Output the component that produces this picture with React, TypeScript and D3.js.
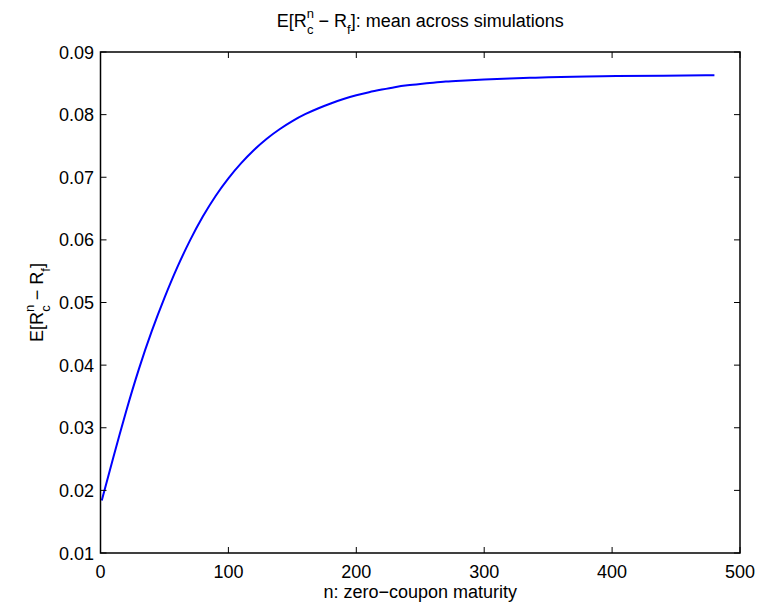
import React from 'react';
import * as d3 from 'd3';

// maturity (months) and mean excess return
const maturity = [1, 10, 20, 30, 40, 50, 60, 70, 80, 90, 100, 110, 120, 130, 140, 150, 160, 170, 180, 190, 200, 210, 220, 230, 240, 250, 260, 270, 280, 300, 320, 340, 360, 380, 400, 440, 480];
const excessReturn = [0.0184, 0.0253, 0.0327, 0.0395, 0.0455, 0.0508, 0.0557, 0.0600, 0.0638, 0.0671, 0.0699, 0.0723, 0.0744, 0.0762, 0.0777, 0.0790, 0.0801, 0.0810, 0.0818, 0.0825, 0.0831, 0.0836, 0.0840, 0.0844, 0.0847, 0.0849, 0.0851, 0.0853, 0.0854, 0.0856, 0.0858, 0.0859, 0.0860, 0.0861, 0.0862, 0.0862, 0.0863];
const xTicks = [0, 100, 200, 300, 400, 500];
const yTicks = [0.01, 0.02, 0.03, 0.04, 0.05, 0.06, 0.07, 0.08, 0.09];

const W = 761, H = 605;
const left = 100.5, right = 740, top = 52, bottom = 553;
const font = 'Liberation Sans, Arial, Helvetica, sans-serif';
const fs = 18;
const sub = 13;
const tickLen = 6;

export default function App() {
  const x = d3.scaleLinear().domain([0, 500]).range([left, right]);
  const y = d3.scaleLinear().domain([0.01, 0.09]).range([bottom, top]);
  const data = maturity.map((m, i) => [m, excessReturn[i]] as [number, number]);
  const line = d3.line<[number, number]>()
    .x(d => x(d[0]))
    .y(d => y(d[1]))
    .curve(d3.curveBasis);

  return (
    <svg width={W} height={H} style={{ position: 'absolute', left: 0, top: 0, background: '#fff' }}
      fontFamily={font} fontSize={fs}>
      <rect x={0} y={0} width={W} height={H} fill="#fff" />
      <path d={line(data) || ''} fill="none" stroke="#0000ff" strokeWidth={2} />
      {/* ticks, inward on all four sides */}
      {xTicks.map(t => (
        <g key={'x' + t} stroke="#000" strokeWidth={1}>
          <line x1={x(t)} x2={x(t)} y1={bottom} y2={bottom - tickLen} />
          <line x1={x(t)} x2={x(t)} y1={top} y2={top + tickLen} />
        </g>
      ))}
      {yTicks.map(t => (
        <g key={'y' + t} stroke="#000" strokeWidth={1}>
          <line x1={left} x2={left + tickLen} y1={y(t)} y2={y(t)} />
          <line x1={right} x2={right - tickLen} y1={y(t)} y2={y(t)} />
        </g>
      ))}
      <rect x={left} y={top} width={right - left} height={bottom - top} fill="none" stroke="#000" strokeWidth={1.5} />
      {xTicks.map(t => (
        <text key={'xl' + t} x={x(t)} y={578} textAnchor="middle">{t}</text>
      ))}
      {yTicks.map(t => (
        <text key={'yl' + t} x={94} y={y(t) + 6.5} textAnchor="end">{t.toFixed(2)}</text>
      ))}
      <text x={(left + right) / 2} y={598} textAnchor="middle">n: zero−coupon maturity</text>
      <text x={(left + right) / 2} y={27} textAnchor="middle">
        E[R<tspan fontSize={sub} dy={-9}>n</tspan>
        <tspan fontSize={sub} dx={-7} dy={16}>c</tspan>
        <tspan dy={-7}> − R</tspan>
        <tspan fontSize={sub} dy={7}>f</tspan>
        <tspan dy={-7}>]: mean across simulations</tspan>
      </text>
      <text transform={`translate(43,${(top + bottom) / 2}) rotate(-90)`} textAnchor="middle">
        E[R<tspan fontSize={sub} dy={-9}>n</tspan>
        <tspan fontSize={sub} dx={-7} dy={16}>c</tspan>
        <tspan dy={-7}> − R</tspan>
        <tspan fontSize={sub} dy={7}>f</tspan>
        <tspan dy={-7}>]</tspan>
      </text>
    </svg>
  );
}
